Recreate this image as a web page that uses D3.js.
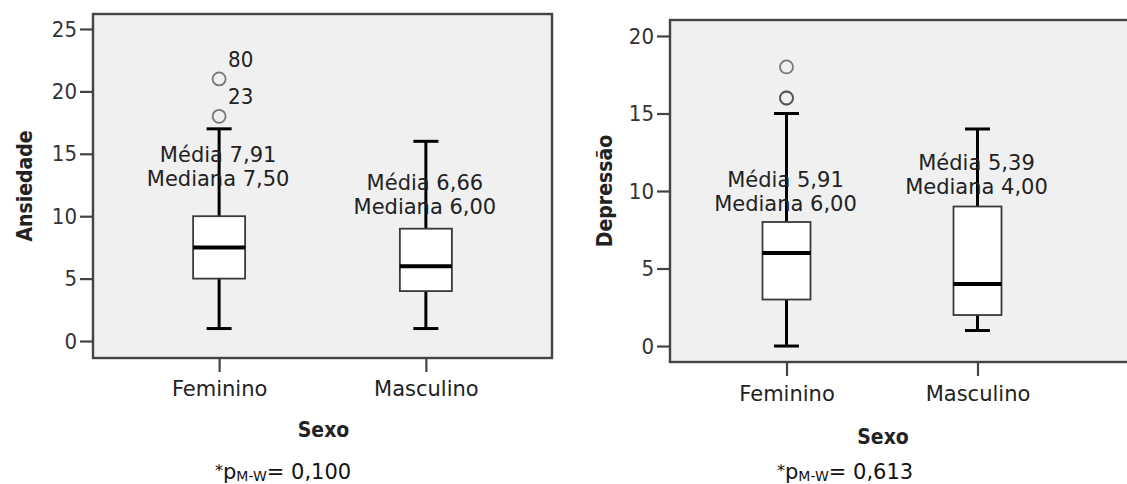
<!DOCTYPE html>
<html>
<head>
<meta charset="utf-8">
<script src="https://cdn.jsdelivr.net/npm/d3@7"></script>
<style>
  body { margin: 0; background: #fff; }
  svg { display: block; }
</style>
</head>
<body>
<svg id="chart" width="1127" height="484"></svg>
<script>
// dados
const categories = ['Feminino', 'Masculino'];

const ansMin = [1, 1];
const ansQ1 = [5, 4];
const ansMedian = [7.5, 6];
const ansQ3 = [10, 9];
const ansMax = [17, 16];
const ansMean = [7.91, 6.66];
const ansOutliers = [[21, 18], []];
const ansOutlierIds = [['80', '23'], []];

const depMin = [0, 1];
const depQ1 = [3, 2];
const depMedian = [6, 4];
const depQ3 = [8, 9];
const depMax = [15, 14];
const depMean = [5.91, 5.39];
const depOutliers = [[18, 16, 16], []];
const depOutlierIds = [[], []];

const yTicks = [[0, 5, 10, 15, 20, 25], [0, 5, 10, 15, 20]];
const pValues = ['0,100', '0,613'];

const fmt = (v) => d3.format('.2f')(v).replace('.', ',');

// layout de cada painel
const panels = [
  { title: 'Ansiedade', min: ansMin, q1: ansQ1, med: ansMedian, q3: ansQ3, max: ansMax,
    mean: ansMean, out: ansOutliers, ids: ansOutlierIds, ticks: yTicks[0], p: pValues[0],
    left: 93, top: 14, bottom: 358, right: 552, frameRight: 552, domain: [-1.36, 26.2],
    boxW: 52, noteY: [14.9, 12.66], titleX: 25, xLabY: 396, sexoY: 437, pX: 215 },
  { title: 'Depressão', min: depMin, q1: depQ1, med: depMedian, q3: depQ3, max: depMax,
    mean: depMean, out: depOutliers, ids: depOutlierIds, ticks: yTicks[1], p: pValues[1],
    left: 670, top: 20, bottom: 362, right: 1094, frameRight: 1140, domain: [-1.03, 21.03],
    boxW: 48, noteY: [10.71, 11.81], titleX: 605, xLabY: 401, sexoY: 444, pX: 777 }
];

const svg = d3.select('#chart');
const frameColor = '#444';

panels.forEach((pn) => {
  const x = d3.scalePoint()
    .domain(categories)
    .range([pn.left, pn.right])
    .padding(0.61);
  const y = d3.scaleLinear()
    .domain(pn.domain)
    .range([pn.bottom, pn.top]);

  const g = svg.append('g');

  // fundo e moldura
  g.append('rect')
    .attr('x', pn.left).attr('y', pn.top)
    .attr('width', pn.frameRight - pn.left).attr('height', pn.bottom - pn.top)
    .attr('fill', '#f0f0f0')
    .attr('stroke', frameColor)
    .attr('stroke-width', 2.4);

  // eixo y
  const ya = g.append('g')
    .attr('transform', 'translate(' + pn.left + ',0)')
    .call(d3.axisLeft(y).tickValues(pn.ticks).tickSize(13).tickPadding(3));
  ya.select('.domain').remove();
  ya.selectAll('line').attr('stroke', frameColor).attr('stroke-width', 2.2);
  ya.selectAll('text')
    .attr('font-family', '"DejaVu Sans Condensed", "DejaVu Sans", sans-serif')
    .attr('font-size', 22)
    .attr('fill', '#333');

  // eixo x
  const xa = g.append('g')
    .attr('transform', 'translate(0,' + pn.bottom + ')')
    .call(d3.axisBottom(x).tickSize(14).tickPadding(9));
  xa.select('.domain').remove();
  xa.selectAll('line').attr('stroke', frameColor).attr('stroke-width', 2.2);
  xa.selectAll('text')
    .attr('y', null).attr('dy', null)
    .attr('y', pn.xLabY - pn.bottom)
    .attr('font-family', '"DejaVu Sans", sans-serif')
    .attr('font-size', 21)
    .attr('fill', '#222');

  // caixas
  categories.forEach((c, i) => {
    const cx = x(c);
    const w = pn.boxW;
    const cap = 25;

    g.append('line')
      .attr('x1', cx).attr('x2', cx)
      .attr('y1', y(pn.max[i])).attr('y2', y(pn.q3[i]))
      .attr('stroke', '#000').attr('stroke-width', 3);
    g.append('line')
      .attr('x1', cx).attr('x2', cx)
      .attr('y1', y(pn.q1[i])).attr('y2', y(pn.min[i]))
      .attr('stroke', '#000').attr('stroke-width', 3);
    [pn.max[i], pn.min[i]].forEach((v) => {
      g.append('line')
        .attr('x1', cx - cap / 2).attr('x2', cx + cap / 2)
        .attr('y1', y(v)).attr('y2', y(v))
        .attr('stroke', '#000').attr('stroke-width', 3);
    });

    g.append('rect')
      .attr('x', cx - w / 2).attr('y', y(pn.q3[i]))
      .attr('width', w).attr('height', y(pn.q1[i]) - y(pn.q3[i]))
      .attr('fill', '#fff')
      .attr('stroke', '#3a3a3a').attr('stroke-width', 1.8);
    g.append('line')
      .attr('x1', cx - w / 2).attr('x2', cx + w / 2)
      .attr('y1', y(pn.med[i])).attr('y2', y(pn.med[i]))
      .attr('stroke', '#000').attr('stroke-width', 4);

    // outliers
    pn.out[i].forEach((v, k) => {
      g.append('circle')
        .attr('cx', cx).attr('cy', y(v)).attr('r', 6.5)
        .attr('fill', 'none')
        .attr('stroke', '#444').attr('stroke-width', 1.8)
        .attr('stroke-opacity', 0.7);
      if (pn.ids[i][k]) {
        g.append('text')
          .attr('x', cx + 9).attr('y', y(v) - 20 + 8)
          .attr('font-family', '"DejaVu Sans Condensed", "DejaVu Sans", sans-serif')
          .attr('font-size', 22)
          .attr('fill', '#222')
          .text(pn.ids[i][k]);
      }
    });

    // anotacoes media / mediana
    const ny = y(pn.noteY[i]);
    const note = g.append('text')
      .attr('text-anchor', 'middle')
      .attr('font-family', '"DejaVu Sans", sans-serif')
      .attr('font-size', 21)
      .attr('fill', '#222');
    note.append('tspan').attr('x', cx - 1).attr('y', ny + 7).text('Média ' + fmt(pn.mean[i]));
    note.append('tspan').attr('x', cx - 1).attr('y', ny + 31).text('Mediana ' + fmt(pn.med[i]));
  });

  // titulos
  g.append('text')
    .attr('transform', 'translate(' + (pn.titleX + 7) + ',' + ((pn.top + pn.bottom) / 2) + ') rotate(-90)')
    .attr('text-anchor', 'middle')
    .attr('font-family', '"DejaVu Sans Condensed", "DejaVu Sans", sans-serif')
    .attr('font-weight', 'bold')
    .attr('font-size', 21)
    .attr('fill', '#222')
    .text(pn.title);

  const mid = (x(categories[0]) + x(categories[1])) / 2;
  g.append('text')
    .attr('x', mid + 1).attr('y', pn.sexoY)
    .attr('text-anchor', 'middle')
    .attr('font-family', '"DejaVu Sans Condensed", "DejaVu Sans", sans-serif')
    .attr('font-weight', 'bold')
    .attr('font-size', 21)
    .attr('fill', '#222')
    .text('Sexo');

  const pt = g.append('text')
    .attr('x', pn.pX).attr('y', 479)
    .attr('font-family', '"DejaVu Sans", sans-serif')
    .attr('font-size', 21)
    .attr('fill', '#111');
  pt.append('tspan').attr('font-size', 16).attr('dy', -3).text('*');
  pt.append('tspan').attr('dy', 3).text('p');
  pt.append('tspan').attr('font-size', 14).attr('dy', 2).text('M-W');
  pt.append('tspan').attr('dy', -2).text('= ' + pn.p);
});
</script>
</body>
</html>
